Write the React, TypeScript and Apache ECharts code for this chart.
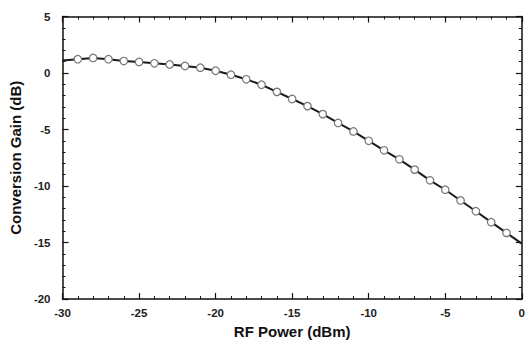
import React, { useEffect, useRef } from "react";
import * as echarts from "echarts";

const rfPower = [-30, -29, -28, -27, -26, -25, -24, -23, -22, -21, -20, -19, -18, -17, -16, -15, -14, -13, -12, -11, -10, -9, -8, -7, -6, -5, -4, -3, -2, -1, 0];
const gain = [1.1, 1.22, 1.33, 1.22, 1.06, 0.98, 0.86, 0.76, 0.62, 0.47, 0.2, -0.15, -0.56, -1.04, -1.67, -2.3, -2.93, -3.64, -4.42, -5.17, -6.0, -6.84, -7.64, -8.55, -9.5, -10.33, -11.28, -12.23, -13.2, -14.15, -15.1];

const FONT = "'Liberation Sans', Arial, sans-serif";

export default function App() {
  const ref = useRef<HTMLDivElement>(null);
  useEffect(() => {
    const chart = echarts.init(ref.current!, null, { renderer: "svg" });
    const axisCommon = {
      axisLine: { show: true, onZero: false, lineStyle: { color: "#111", width: 1.5 } },
      axisTick: { show: true, inside: true, length: 6, lineStyle: { color: "#111", width: 1.2 } },
      minorTick: { show: true, splitNumber: 5, length: 3, lineStyle: { color: "#111", width: 1 } },
      splitLine: { show: false },
    };
    const labelStyle = { color: "#222", fontFamily: FONT, fontWeight: "bold" as const, fontSize: 11.5 };
    const nameStyle = { color: "#111", fontFamily: FONT, fontWeight: "bold" as const, fontSize: 15 };
    chart.setOption({
      animation: false,
      backgroundColor: "#fff",
      grid: { left: 60, right: 5, top: 16.5, bottom: 48 },
      xAxis: [
        {
          type: "value", min: -30, max: 0, interval: 5, position: "bottom",
          ...axisCommon,
          axisLabel: { ...labelStyle, margin: 8 },
          name: "RF Power (dBm)", nameLocation: "middle", nameGap: 25, nameTextStyle: nameStyle,
        },
        {
          type: "value", min: -30, max: 0, interval: 5, position: "top",
          ...axisCommon,
          axisLabel: { show: false },
        },
      ],
      yAxis: [
        {
          type: "value", min: -20, max: 5, interval: 5, position: "left",
          ...axisCommon,
          axisLabel: { ...labelStyle, margin: 12 },
          name: "Conversion Gain (dB)", nameLocation: "middle", nameGap: 35, nameTextStyle: nameStyle,
        },
        {
          type: "value", min: -20, max: 5, interval: 5, position: "right",
          ...axisCommon,
          axisLabel: { show: false },
        },
      ],
      series: [
        {
          type: "line",
          xAxisIndex: 0,
          yAxisIndex: 0,
          data: rfPower.map((x, i) => {
            const edge = i === 0 || i === rfPower.length - 1;
            return edge ? { value: [x, gain[i]], symbol: "none" } : { value: [x, gain[i]] };
          }),
          symbol: "circle",
          symbolSize: 7.5,
          lineStyle: { color: "#1a1a1a", width: 2 },
          itemStyle: { color: "#fff", borderColor: "#777", borderWidth: 1.2 },
          z: 3,
        },
      ],
    });
    return () => chart.dispose();
  }, []);
  return <div ref={ref} style={{ width: 528, height: 347, position: "absolute", left: 0, top: 0 }} />;
}
